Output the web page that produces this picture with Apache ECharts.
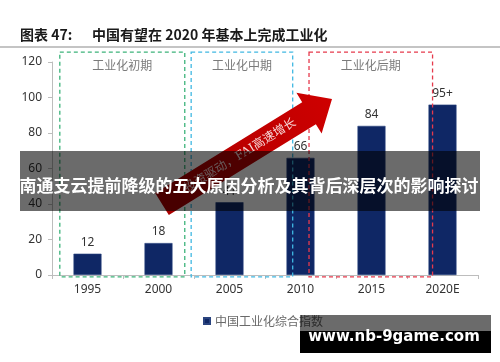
<!DOCTYPE html>
<html><head><meta charset="utf-8">
<script src="https://cdn.jsdelivr.net/npm/echarts@6/dist/echarts.min.js"></script>
<style>html,body{margin:0;padding:0;background:#fff}#c{width:500px;height:362px}</style>
</head><body><div id="c"></div>
<script>
const categories = ['1995', '2000', '2005', '2010', '2015', '2020E'];
const values = [12, 18, 41, 66, 84, 96];
const valueLabels = ['12', '18', '41', '66', '84', '95+'];
const yTicks = [0, 20, 40, 60, 80, 100, 120];
const seriesName = '中国工业化综合指数';
const stageNames = ['工业化初期', '工业化中期', '工业化后期'];
const stageSpans = [[-0.39, 1.37], [1.46, 2.89], [3.12, 4.86]];
const stageRange = [-1.1, 125.6];
const stageColors = ['#3cb37a', '#40b8e2', '#e63a4c'];
const titleLeft = '图表 47:';
const titleRight = '中国有望在 2020 年基本上完成工业化';
const arrowText = '投资驱动，FAI高速增长';
const bannerText = '南通支云提前降级的五大原因分析及其背后深层次的影响探讨';
const watermarkText = 'www.nb-9game.com';

const chart = echarts.init(document.getElementById('c'), null, {renderer: 'canvas'});
const numFont = 'Noto Sans';
chart.setOption({
  animation: false,
  backgroundColor: '#fff',
  grid: {left: 52, right: 22, top: 62, bottom: 87},
  legend: {
    data: [seriesName], left: 198, top: 310, icon: 'rect', itemWidth: 6, itemHeight: 6, itemGap: 5,
    textStyle: {color: '#6a6a6a', fontSize: 12, fontFamily: 'Noto Sans CJK SC'}
  },
  xAxis: {
    type: 'category', data: categories,
    axisLine: {lineStyle: {color: '#bdbdbd', width: 1}},
    axisTick: {show: true, length: 4, lineStyle: {color: '#bdbdbd'}},
    axisLabel: {color: '#333', fontSize: 12, margin: 9, fontFamily: numFont}
  },
  yAxis: {
    type: 'value', min: yTicks[0], max: yTicks[yTicks.length - 1], interval: 20,
    axisLine: {show: true, lineStyle: {color: '#bdbdbd', width: 1}},
    axisTick: {show: true, length: 4, lineStyle: {color: '#bdbdbd'}},
    splitLine: {show: false},
    axisLabel: {color: '#333', fontSize: 12, margin: 10, fontFamily: numFont}
  },
  series: [{
    name: seriesName, type: 'bar', data: values, barWidth: 28,
    itemStyle: {color: '#0f2765', borderColor: '#2a447f', borderWidth: 0.6},
    label: {
      show: true, position: 'top', distance: 5, color: '#333', fontSize: 12, fontFamily: numFont,
      formatter: p => valueLabels[p.dataIndex]
    },
    z: 2
  }]
});

const px0 = chart.convertToPixel({xAxisIndex: 0}, 0);
const px1 = chart.convertToPixel({xAxisIndex: 0}, 1);
const step = px1 - px0;
const xAt = i => px0 + i * step;
const yAt = v => chart.convertToPixel({yAxisIndex: 0}, v);

const g = [];
// title
g.push({type: 'text', left: 20, top: 28, z: 50, style: {text: titleLeft, font: 'bold 14px "Noto Sans CJK SC"', fill: '#1a1a1a'}});
g.push({type: 'text', left: 92, top: 28, z: 50, style: {text: titleRight, font: 'bold 14px "Noto Sans CJK SC"', fill: '#1a1a1a'}});
g.push({type: 'line', z: 50, shape: {x1: 0, y1: 47, x2: 500, y2: 47}, style: {stroke: '#8a8a8a', lineWidth: 1.2}});

// stage boxes
const yTop = yAt(stageRange[1]), yBot = yAt(stageRange[0]);
stageSpans.forEach((s, k) => {
  const x1 = xAt(s[0]), x2 = xAt(s[1]);
  g.push({type: 'rect', z: 10, shape: {x: x1, y: yTop, width: x2 - x1, height: yBot - yTop},
    style: {fill: 'none', stroke: stageColors[k], lineWidth: 1.3, lineDash: [4, 3]}});
  g.push({type: 'text', z: 10, x: (x1 + x2) / 2, y: yTop + 13,
    style: {text: stageNames[k], font: '12px "Noto Sans CJK SC"', fill: '#7a7a7a', align: 'center', verticalAlign: 'middle'}});
});

// arrow
const C0 = [162, 204], P = [332, 99];
const dx = P[0] - C0[0], dy = P[1] - C0[1];
const len = Math.hypot(dx, dy);
const u = [dx / len, dy / len], n = [-u[1], u[0]];
const headL = 27, headW = 24, shaftW = 13;
const B = [P[0] - headL * u[0], P[1] - headL * u[1]];
const pt = (base, w) => [base[0] + w * n[0], base[1] + w * n[1]];
const arrowPts = [pt(C0, shaftW), pt(B, shaftW), pt(B, headW), P, pt(B, -headW), pt(B, -shaftW), pt(C0, -shaftW)];
g.push({type: 'polygon', z: 20, shape: {points: arrowPts},
  style: {fill: new echarts.graphic.LinearGradient(0, 1, 1, 0, [{offset: 0, color: '#a80000'}, {offset: 1, color: '#cf0000'}])}});
const ang = Math.atan2(-dy, dx);
const tc = [C0[0] + u[0] * 92, C0[1] + u[1] * 92];
g.push({type: 'text', z: 21, x: tc[0], y: tc[1], rotation: ang,
  style: {text: arrowText, font: '12px "DejaVu Serif", "Noto Sans CJK SC"', fill: '#f6d6d6', align: 'center', verticalAlign: 'middle'}});

// banner overlay
g.push({type: 'rect', z: 30, shape: {x: 20, y: 151, width: 460, height: 60}, style: {fill: 'rgba(0,0,0,0.58)'}});
g.push({type: 'text', z: 31, x: 249, y: 186,
  style: {text: bannerText, font: 'bold 17px "Noto Sans CJK SC"', fill: '#fff', align: 'center', verticalAlign: 'middle'}});

// watermark
g.push({type: 'rect', z: 30, shape: {x: 300, y: 315, width: 191, height: 16}, style: {fill: 'rgba(0,0,0,0.58)'}});
g.push({type: 'rect', z: 30, shape: {x: 300, y: 331, width: 191, height: 22}, style: {fill: '#000'}});
g.push({type: 'text', z: 31, x: 394, y: 337,
  style: {text: watermarkText, font: 'bold 15px "DejaVu Sans"', fill: '#fff', align: 'center', verticalAlign: 'middle'}});

chart.setOption({graphic: g});
</script></body></html>
